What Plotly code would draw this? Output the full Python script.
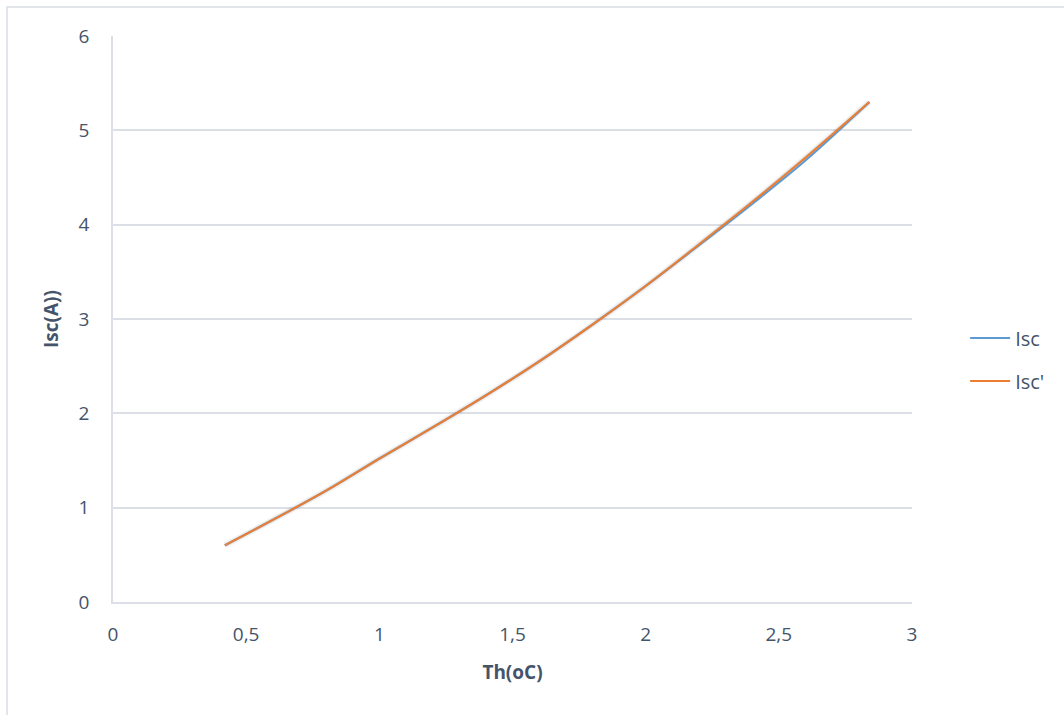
import plotly.graph_objects as go

th = [0.42, 0.6, 0.8, 1.0, 1.2, 1.4, 1.6, 1.8, 2.0, 2.2, 2.4, 2.6, 2.84]
isc = [0.60, 0.87, 1.18, 1.52, 1.85, 2.19, 2.55, 2.94, 3.35, 3.78, 4.22, 4.68, 5.30]
isc_p = [0.60, 0.87, 1.18, 1.52, 1.85, 2.19, 2.55, 2.94, 3.35, 3.79, 4.24, 4.71, 5.30]
x_ticks = [0, 0.5, 1, 1.5, 2, 2.5, 3]
y_ticks = [0, 1, 2, 3, 4, 5, 6]

TXT = "#44546A"
GRID = "#DCE0E6"
FONT = "Open Sans, Noto Sans, sans-serif"

W, H = 1064, 715
L, T = 111, 33
PW, PH = 799, 566
DX, DY = 2, 3  # shadow offset
R = W - L - PW - DX
B = H - T - PH - DY
fw = PW + DX
fh = PH + DY

fig = go.Figure()

# soft shadow under the curve (same data, base axes shifted a few px, hidden)
for w, a in [(6, 0.06), (3, 0.15)]:
    fig.add_trace(go.Scatter(x=th, y=isc_p, mode="lines", xaxis="x", yaxis="y",
                             line=dict(color=f"rgba(0,0,0,{a})", width=w, shape="spline"),
                             showlegend=False, hoverinfo="skip"))

fig.add_trace(go.Scatter(x=th, y=isc, mode="lines", name="Isc", legendgroup="a",
                         xaxis="x2", yaxis="y2",
                         line=dict(color="#5B9BD5", width=2, shape="spline")))
fig.add_trace(go.Scatter(x=th, y=isc_p, mode="lines", name="Isc'", legendgroup="b",
                         xaxis="x2", yaxis="y2",
                         line=dict(color="#ED7D31", width=2, shape="spline")))

main_x = [0, PW / fw]
main_y = [DY / fh, 1]

fig.update_layout(
    width=W, height=H,
    margin=dict(l=L, r=R, t=T, b=B),
    paper_bgcolor="white", plot_bgcolor="white",
    separators=", ",
    font=dict(family=FONT, size=19, color=TXT),
    xaxis=dict(domain=[DX / fw, 1], range=[0, 3], anchor="y", visible=False),
    yaxis=dict(domain=[0, PH / fh], range=[0, 6], anchor="x", visible=False),
    xaxis2=dict(domain=main_x, range=[0, 3], tickvals=x_ticks, anchor="y2", overlaying="x",
                showgrid=False, zeroline=False, showline=True, linecolor=GRID, linewidth=1.5,
                ticks="outside", ticklen=14, tickcolor="rgba(0,0,0,0)",
                tickfont=dict(size=19, color=TXT),
                title=dict(text="<b>Th(oC)</b>", font=dict(size=19, color=TXT), standoff=20)),
    yaxis2=dict(domain=main_y, range=[0, 6], tickvals=y_ticks, anchor="x2", overlaying="y",
                showgrid=True, gridcolor=GRID, gridwidth=1.5, zeroline=False,
                showline=True, linecolor=GRID, linewidth=1.5,
                ticks="outside", ticklen=18, tickcolor="rgba(0,0,0,0)",
                tickfont=dict(size=19, color=TXT),
                title=dict(text="<b>Isc(A))</b>", font=dict(size=19, color=TXT), standoff=15)),
    legend=dict(x=(963 - L) / PW, y=0.426, xanchor="left", yanchor="middle",
                font=dict(size=20, color=TXT), tracegroupgap=14, itemwidth=40,
                bgcolor="rgba(0,0,0,0)"),
    showlegend=True,
)

# outer chart border
fig.add_shape(type="rect", xref="paper", yref="paper",
              x0=(7 - L) / fw, x1=1.4, y0=-0.4, y1=(fh + T - 7) / fh,
              line=dict(color="#D9DDE3", width=1.5), fillcolor="rgba(0,0,0,0)", layer="below")

fig.write_html("out.html", config={"displayModeBar": False},
               post_script="document.body.style.margin='0';")
